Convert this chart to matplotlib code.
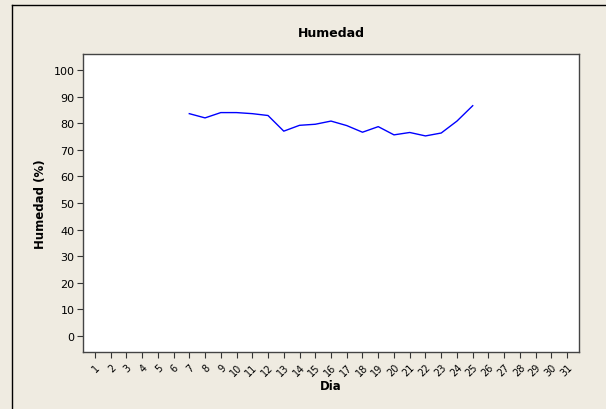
import matplotlib
matplotlib.use("Agg")
import matplotlib.pyplot as plt
from matplotlib.lines import Line2D

days = list(range(7, 26))
humidity = [83.7, 82.1, 84.1, 84.1, 83.7, 83.0, 77.1, 79.3, 79.7, 80.9, 79.2,
            76.7, 78.8, 75.7, 76.6, 75.3, 76.4, 80.9, 86.7]
x_ticks = list(range(1, 32))
y_ticks = list(range(0, 101, 10))

W, H = 606, 410
fig = plt.figure(figsize=(W / 100, H / 100), dpi=100)
bg = "#EFEBE1"
fig.patch.set_facecolor(bg)

# outer border (left and top)
fig.add_artist(Line2D([12 / W, 12 / W], [0, 1 - 6 / H], transform=fig.transFigure, color="black", lw=1.0))
fig.add_artist(Line2D([12 / W, 1], [1 - 6 / H, 1 - 6 / H], transform=fig.transFigure, color="black", lw=1.0))

left, right, top, bottom = 83, 579, 55, 353
ax = fig.add_axes([left / W, 1 - bottom / H, (right - left) / W, (bottom - top) / H])
ax.set_facecolor("white")
ax.plot(days, humidity, color="#0000FF", lw=1.0)

ax.set_xlim(0.25, 31.75)
ax.set_ylim(-6.2, 106.2)
ax.set_xticks(x_ticks)
ax.set_xticklabels([str(t) for t in x_ticks], rotation=45, ha="right", va="top",
                   rotation_mode="anchor", fontsize=7)
ax.set_yticks(y_ticks)
ax.set_yticklabels([str(t) for t in y_ticks], fontsize=8)
ax.tick_params(axis="both", direction="out", length=4, width=0.8, color="#333333", pad=2)
ax.tick_params(axis="x", pad=3)
for s in ax.spines.values():
    s.set_color("#444444")
    s.set_linewidth(1.0)

ax.set_title("Humedad", fontsize=9, fontweight="bold", pad=13)
ax.set_xlabel("Dia", fontsize=8.5, fontweight="bold", labelpad=1)
ax.set_ylabel("Humedad (%)", fontsize=8.5, fontweight="bold", labelpad=5)

fig.savefig("out.png", dpi=100, facecolor=bg)
